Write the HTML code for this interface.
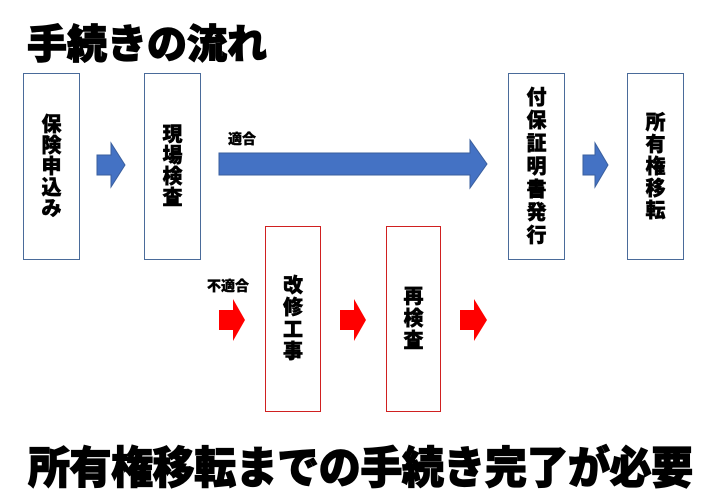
<!DOCTYPE html>
<html><head><meta charset="utf-8"><style>
body{margin:0;width:718px;height:500px;background:#fff;position:relative;overflow:hidden;font-family:"Liberation Sans","Noto Sans CJK JP",sans-serif;font-weight:900;color:#000}
.b{position:absolute;box-sizing:border-box;display:flex;flex-direction:column;align-items:center;justify-content:center;font-size:20px;line-height:1;-webkit-text-stroke:0.5px #000}
.blue{border:1.5px solid #4a6b9a}
.red{border:1.5px solid #d02020}
.t{position:absolute;white-space:nowrap}
</style></head><body>
<div class="t" style="left:27px;top:12px;font-size:40px;-webkit-text-stroke:1.2px #000">手続きの流れ</div>

<div class="b blue" style="left:23px;top:73px;width:57px;height:187px;gap:1px"><span>保</span><span>険</span><span>申</span><span>込</span><span>み</span></div>
<div class="b blue" style="left:144px;top:73px;width:57px;height:187px;gap:1px"><span>現</span><span>場</span><span>検</span><span>査</span></div>
<div class="b blue" style="left:508px;top:73px;width:57px;height:187px;gap:3px"><span>付</span><span>保</span><span>証</span><span>明</span><span>書</span><span>発</span><span>行</span></div>
<div class="b blue" style="left:627px;top:73px;width:57px;height:187px;gap:2px"><span>所</span><span>有</span><span>権</span><span>移</span><span>転</span></div>

<div class="b red" style="left:265px;top:226px;width:56px;height:186px;gap:2px"><span>改</span><span>修</span><span>工</span><span>事</span></div>
<div class="b red" style="left:386px;top:226px;width:55px;height:186px;gap:2px"><span>再</span><span>検</span><span>査</span></div>

<svg width="718" height="500" style="position:absolute;left:0;top:0">
<g fill="#4472c4" stroke="#3a5f9e" stroke-width="1">
<polygon points="97,155 111,155 111,143 125,165 111,187 111,175 97,175"/>
<polygon points="219,153 470,153 470,140 487,164 470,188 470,175 219,175"/>
<polygon points="583,155 595,155 595,143 608,165 595,187 595,175 583,175"/>
</g>
<g fill="#ff0000">
<polygon points="219,310 233,310 233,299 245,320 233,341 233,330 219,330"/>
<polygon points="340,310 354,310 354,299 366,320 354,341 354,330 340,330"/>
<polygon points="460,310 474,310 474,299 487,320 474,341 474,330 460,330"/>
</g>
</svg>

<div class="t" style="left:228px;top:129px;font-size:14px;-webkit-text-stroke:0.3px #000">適合</div>
<div class="t" style="left:207px;top:276px;font-size:14px;-webkit-text-stroke:0.3px #000">不適合</div>

<div class="t" style="left:28px;top:432px;font-size:44px;letter-spacing:-0.5px;-webkit-text-stroke:1.2px #000;transform:scaleX(0.955);transform-origin:top left">所有権移転までの手続き完了が必要</div>
</body></html>
